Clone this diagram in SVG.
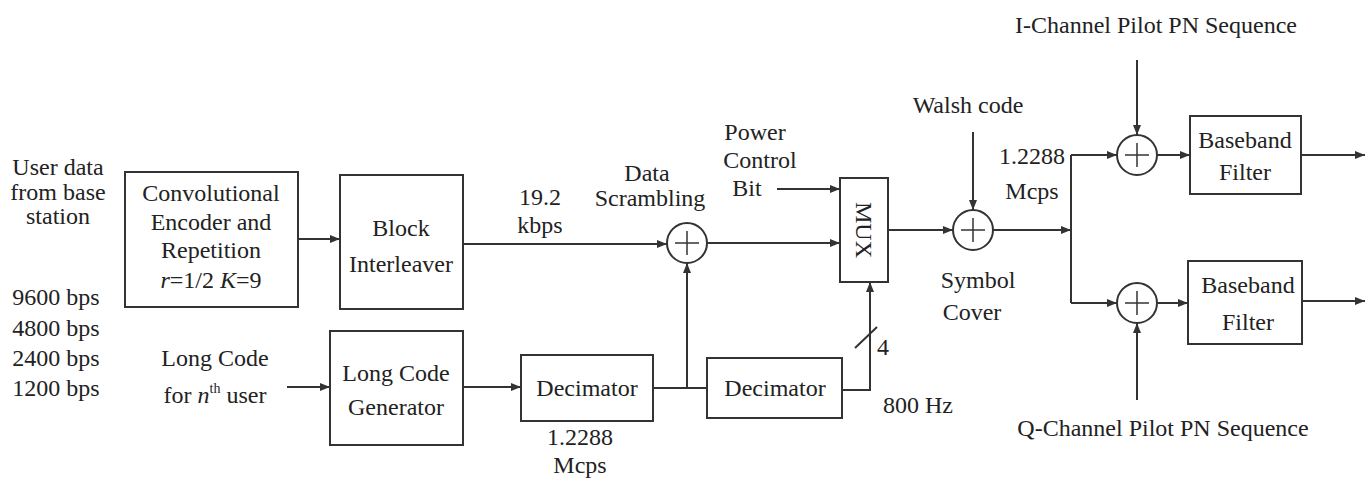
<svg xmlns="http://www.w3.org/2000/svg" width="1371" height="478" viewBox="0 0 1371 478" font-family="'Liberation Serif', 'DejaVu Serif', 'Times New Roman', serif">
<style>
text{font-family:'Liberation Serif','DejaVu Serif','Times New Roman',serif;font-size:24px;fill:#222;text-anchor:middle}
.b{fill:none;stroke:#333;stroke-width:2}
.w{stroke:#333;stroke-width:2;fill:none}
.a{stroke:#333;stroke-width:2;fill:none;marker-end:url(#ar)}
.c{fill:#fff;stroke:#333;stroke-width:2}
</style>
<defs>
<marker id="ar" viewBox="0 0 10 8" refX="10" refY="4" markerWidth="10" markerHeight="8" markerUnits="userSpaceOnUse" orient="auto">
<path d="M0,0 L10,4 L0,8 Z" fill="#333"/>
</marker>
<g id="plus"><line x1="-12" y1="0" x2="12" y2="0" stroke="#333" stroke-width="1.5"/><line x1="0" y1="-12" x2="0" y2="12" stroke="#333" stroke-width="1.5"/></g>
</defs>
<rect width="1371" height="478" fill="#fff"/>

<g id="labels">
<text x="58" y="175">User data</text>
<text x="58" y="200">from base</text>
<text x="58" y="224">station</text>
<text x="56" y="305">9600 bps</text>
<text x="56" y="336">4800 bps</text>
<text x="56" y="366">2400 bps</text>
<text x="56" y="396">1200 bps</text>
<text x="215" y="366">Long Code</text>
<text x="215" y="403">for <tspan font-style="italic">n</tspan><tspan font-size="14" dy="-10">th</tspan><tspan dy="10"> user</tspan></text>
<text x="540" y="205">19.2</text>
<text x="540" y="233">kbps</text>
<text x="647" y="181">Data</text>
<text x="650" y="206">Scrambling</text>
<text x="755" y="140">Power</text>
<text x="760" y="168">Control</text>
<text x="747" y="196">Bit</text>
<text x="580" y="445">1.2288</text>
<text x="580" y="473">Mcps</text>
<text x="883" y="355">4</text>
<text x="918" y="413">800 Hz</text>
<text x="968" y="113">Walsh code</text>
<text x="1032" y="164">1.2288</text>
<text x="1032" y="199">Mcps</text>
<text x="978" y="288">Symbol</text>
<text x="972" y="320">Cover</text>
<text x="1156" y="33">I-Channel Pilot PN Sequence</text>
<text x="1163" y="436">Q-Channel Pilot PN Sequence</text>
</g>

<g id="conv">
<rect class="b" x="125" y="172" width="173" height="135"/>
<text x="211" y="201">Convolutional</text>
<text x="211" y="230">Encoder and</text>
<text x="211" y="258">Repetition</text>
<text x="211" y="288"><tspan font-style="italic">r</tspan>=1/2 <tspan font-style="italic">K</tspan>=9</text>
</g>
<g id="interleaver">
<rect class="b" x="340" y="175" width="123" height="134"/>
<text x="401" y="236">Block</text>
<text x="401" y="272">Interleaver</text>
</g>
<g id="longcode">
<rect class="b" x="330" y="331" width="133" height="114"/>
<text x="396" y="381">Long Code</text>
<text x="396" y="415">Generator</text>
</g>
<g id="dec1">
<rect class="b" x="521" y="355" width="132" height="66"/>
<text x="587" y="396">Decimator</text>
</g>
<g id="dec2">
<rect class="b" x="707" y="358" width="135" height="60"/>
<text x="775" y="396">Decimator</text>
</g>
<g id="mux">
<rect class="b" x="840" y="178" width="48" height="104"/>
<text x="0" y="0" transform="translate(864,230) rotate(90)" dy="8">MUX</text>
</g>
<g id="scramble">
<circle class="c" cx="687" cy="243" r="20"/>
<use href="#plus" x="687" y="243"/>
</g>
<g id="symcover">
<circle class="c" cx="973" cy="230" r="20"/>
<use href="#plus" x="973" y="230"/>
</g>
<g id="isum">
<circle class="c" cx="1137" cy="155" r="20"/>
<use href="#plus" x="1137" y="155"/>
</g>
<g id="qsum">
<circle class="c" cx="1137" cy="303" r="20"/>
<use href="#plus" x="1137" y="303"/>
</g>
<g id="bbf1">
<rect class="b" x="1190" y="116" width="111" height="78"/>
<text x="1245" y="148">Baseband</text>
<text x="1245" y="180">Filter</text>
</g>
<g id="bbf2">
<rect class="b" x="1188" y="261" width="114" height="83"/>
<text x="1248" y="293">Baseband</text>
<text x="1248" y="330">Filter</text>
</g>

<g id="connectors">
<line class="a" x1="298" y1="239" x2="340" y2="239"/>
<line class="a" x1="287" y1="387" x2="330" y2="387"/>
<line class="a" x1="463" y1="244" x2="667" y2="244"/>
<line class="a" x1="707" y1="243" x2="840" y2="243"/>
<line class="a" x1="777" y1="189" x2="840" y2="189"/>
<line class="a" x1="463" y1="387" x2="521" y2="387"/>
<line class="w" x1="653" y1="388" x2="707" y2="388"/>
<line class="a" x1="687" y1="388" x2="687" y2="263"/>
<polyline class="a" points="842,390 870,390 870,282"/>
<line class="w" x1="855" y1="348" x2="877" y2="327"/>
<line class="a" x1="888" y1="230" x2="953" y2="230"/>
<line class="a" x1="973" y1="132" x2="973" y2="210"/>
<line class="a" x1="993" y1="230" x2="1071" y2="230"/>
<line class="w" x1="1071" y1="155" x2="1071" y2="303"/>
<line class="a" x1="1071" y1="155" x2="1117" y2="155"/>
<line class="a" x1="1071" y1="303" x2="1117" y2="303"/>
<line class="a" x1="1137" y1="60" x2="1137" y2="135"/>
<line class="a" x1="1137" y1="400" x2="1137" y2="323"/>
<line class="a" x1="1157" y1="155" x2="1190" y2="155"/>
<line class="a" x1="1157" y1="303" x2="1188" y2="303"/>
<line class="a" x1="1301" y1="155" x2="1365" y2="155"/>
<line class="a" x1="1302" y1="301" x2="1365" y2="301"/>
</g>
</svg>
